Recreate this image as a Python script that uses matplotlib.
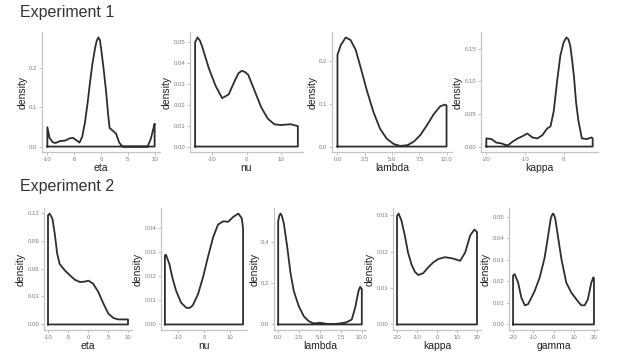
import numpy as np
import matplotlib.pyplot as plt

plt.rcParams['font.family'] = ['Liberation Sans', 'DejaVu Sans']

# ---- Experiment 1 ----
eta1_x = [-10, -9.6, -9.0, -8.5, -7.6, -6.7, -5.8, -5.2, -4.6, -4.0, -3.5, -3.0, -2.5, -2.1, -1.6, -1.1, -0.8, -0.5, -0.2, 0.1, 0.5, 1.0, 1.3, 1.6, 2.2, 2.8, 3.4, 4.0, 8.7, 9.3, 9.7, 10]
eta1_y = [0.049, 0.022, 0.011, 0.009, 0.014, 0.015, 0.021, 0.022, 0.016, 0.010, 0.025, 0.060, 0.110, 0.157, 0.210, 0.250, 0.268, 0.2765, 0.270, 0.240, 0.195, 0.133, 0.085, 0.047, 0.040, 0.033, 0.010, 0.0, 0.0, 0.02, 0.042, 0.058]

nu1_x = [-15, -14.3, -13.6, -12.9, -11, -9, -7.1, -5.2, -3.3, -2.3, -1.4, -0.5, 0.5, 2.4, 4.3, 6.2, 8.1, 10, 12.9, 15]
nu1_y = [0.050, 0.0523, 0.0508, 0.0477, 0.0375, 0.029, 0.0232, 0.025, 0.032, 0.0352, 0.0363, 0.0358, 0.0344, 0.0266, 0.0188, 0.0134, 0.0107, 0.0103, 0.0107, 0.0098]

lambda1_x = [0.0, 0.3, 0.76, 1.2, 1.67, 2.1, 2.7, 3.3, 3.9, 4.5, 5.15, 5.75, 6.4, 7.0, 7.6, 8.2, 8.8, 9.4, 9.85, 10.0]
lambda1_y = [0.215, 0.238, 0.256, 0.250, 0.227, 0.188, 0.131, 0.081, 0.042, 0.019, 0.006, 0.0015, 0.003, 0.0115, 0.027, 0.050, 0.075, 0.094, 0.0985, 0.096]

kappa1_x = [-20, -18.7, -17.4, -16.2, -14.5, -13.2, -11.9, -10.6, -9.4, -8.1, -6.8, -5.5, -4.3, -3.4, -2.55, -1.7, -0.85, 0.0, 0.7, 1.2, 1.7, 2.2, 2.7, 3.2, 3.8, 4.7, 6.0, 7.2, 7.5]
kappa1_y = [0.0125, 0.0115, 0.006, 0.005, 0.0015, 0.0075, 0.0125, 0.016, 0.020, 0.014, 0.0125, 0.0175, 0.0275, 0.031, 0.055, 0.100, 0.140, 0.160, 0.1675, 0.165, 0.155, 0.132, 0.105, 0.068, 0.040, 0.0125, 0.0115, 0.014, 0.0125]

# ---- Experiment 2 ----
eta2_x = [-10, -9.6, -8.9, -8.3, -7.7, -7.1, -5.8, -4.5, -3.3, -2.0, -0.76, 0.1, 1.3, 2.6, 3.9, 5.1, 6.4, 7.6, 8.9, 10]
eta2_y = [0.117, 0.119, 0.1135, 0.097, 0.076, 0.065, 0.058, 0.0527, 0.048, 0.0455, 0.046, 0.047, 0.0437, 0.0347, 0.022, 0.0115, 0.0068, 0.0054, 0.0054, 0.0054]

nu2_x = [-15, -14.6, -13.3, -12, -10.7, -8.8, -6.8, -5.5, -4.3, -2.3, -0.4, 1.5, 3.5, 5.4, 7.4, 9.3, 11.2, 13.2, 14.5, 15]
nu2_y = [0.0285, 0.0288, 0.025, 0.01875, 0.0139, 0.009, 0.0069, 0.0068, 0.0079, 0.0125, 0.0194, 0.0278, 0.036, 0.0413, 0.0426, 0.0424, 0.0444, 0.0458, 0.0438, 0.0396]

lambda2_x = [0.0, 0.15, 0.28, 0.45, 0.67, 1.07, 1.47, 1.87, 2.46, 3.06, 3.65, 4.25, 5.0, 5.8, 6.6, 7.4, 8.2, 8.8, 9.2, 9.6, 9.8, 10.0]
lambda2_y = [0.50, 0.528, 0.537, 0.525, 0.49, 0.379, 0.25, 0.161, 0.089, 0.040, 0.016, 0.005, 0.008, 0.003, 0.0016, 0.005, 0.011, 0.024, 0.080, 0.161, 0.182, 0.170]

kappa2_x = [-20, -19.2, -17.8, -16.1, -14.5, -12.8, -11.1, -9.4, -6.9, -4.4, -1.8, 0.7, 4.0, 7.4, 9.9, 11.6, 14.1, 16.6, 18.7, 20]
kappa2_y = [0.0298, 0.0305, 0.0286, 0.0245, 0.0198, 0.0166, 0.0145, 0.0136, 0.0141, 0.0157, 0.0171, 0.018, 0.0185, 0.0182, 0.0178, 0.0175, 0.0198, 0.0245, 0.0261, 0.0254]

gamma_x = [-20, -19.2, -17.5, -15.9, -14.2, -12.6, -10.9, -9.3, -6.8, -4.4, -2.7, -1.4, -0.8, -0.25, 0.35, 0.9, 2.2, 3.9, 6.3, 8.8, 11.3, 13.7, 15.4, 17.0, 18.7, 19.7, 20]
gamma_y = [0.0227, 0.0234, 0.0195, 0.0125, 0.0089, 0.0094, 0.0125, 0.0156, 0.0219, 0.031, 0.041, 0.049, 0.0508, 0.0516, 0.0508, 0.049, 0.041, 0.0305, 0.0195, 0.0148, 0.0117, 0.0089, 0.0089, 0.0117, 0.0195, 0.0219, 0.0215]

# tick values / labels
eta_ticks = [-10, -5, 0, 5, 10]
nu_ticks = [-10, 0, 10]
lambda_ticks = [0.0, 2.5, 5.0, 7.5, 10.0]
kappa1_ticks = [-20, -10, 0]
wide_ticks = [-20, -10, 0, 10, 20]

W, H = 617, 354
fig = plt.figure(figsize=(W / 100, H / 100), dpi=100)
fig.patch.set_facecolor('white')


def panel(box, xs, ys, xlabel, xticks, xfmt, yticks, yfmt):
    l, t, r, b = box
    ax = fig.add_axes([l / W, 1 - b / H, (r - l) / W, (b - t) / H])
    px = [xs[0]] + list(xs) + [xs[-1], xs[0]]
    py = [0] + list(ys) + [0, 0]
    ax.plot(px, py, color='#2e2e2e', lw=1.3, solid_joinstyle='round')
    span = xs[-1] - xs[0]
    ymax = max(ys)
    ax.set_xlim(xs[0] - 0.05 * span, xs[-1] + 0.05 * span)
    ax.set_ylim(-0.05 * ymax, 1.05 * ymax)
    ax.set_xticks(xticks)
    ax.set_xticklabels([xfmt.format(v) for v in xticks])
    ax.set_yticks(yticks)
    ax.set_yticklabels([yfmt.format(v) for v in yticks])
    for s in ['top', 'right']:
        ax.spines[s].set_visible(False)
    for s in ['left', 'bottom']:
        ax.spines[s].set_color('#c4c4c4')
        ax.spines[s].set_linewidth(0.9)
    ax.tick_params(length=2, width=0.6, color='#b8b8b8', labelsize=4.3,
                   labelcolor='#7a7a7a', pad=1.5)
    ax.set_xlabel(xlabel, fontsize=7.5, color='#222222', labelpad=1)
    ax.set_ylabel('density', fontsize=7.5, color='#222222', labelpad=1)
    ax.patch.set_alpha(0)
    return ax


r1 = (32, 152)
panel((42, r1[0], 160, r1[1]), eta1_x, eta1_y, 'eta', eta_ticks, '{:g}', [0.0, 0.1, 0.2], '{:.1f}')
panel((190, r1[0], 303, r1[1]), nu1_x, nu1_y, 'nu', nu_ticks, '{:g}', [0.0, 0.01, 0.02, 0.03, 0.04, 0.05], '{:.2f}')
panel((332, r1[0], 452, r1[1]), lambda1_x, lambda1_y, 'lambda', lambda_ticks, '{:.1f}', [0.0, 0.1, 0.2], '{:.1f}')
panel((481, r1[0], 598, r1[1]), kappa1_x, kappa1_y, 'kappa', kappa1_ticks, '{:g}', [0.0, 0.05, 0.10, 0.15], '{:.2f}')

r2 = (208, 330)
panel((44, r2[0], 132, r2[1]), eta2_x, eta2_y, 'eta', eta_ticks, '{:g}', [0.0, 0.03, 0.06, 0.09, 0.12], '{:.2f}')
panel((161, r2[0], 247, r2[1]), nu2_x, nu2_y, 'nu', nu_ticks, '{:g}', [0.0, 0.01, 0.02, 0.03, 0.04], '{:.2f}')
panel((274, r2[0], 366, r2[1]), lambda2_x, lambda2_y, 'lambda', lambda_ticks, '{:.1f}', [0.0, 0.2, 0.4], '{:.1f}')
panel((393, r2[0], 481, r2[1]), kappa2_x, kappa2_y, 'kappa', wide_ticks, '{:g}', [0.0, 0.01, 0.02, 0.03], '{:.2f}')
panel((509, r2[0], 598, r2[1]), gamma_x, gamma_y, 'gamma', wide_ticks, '{:g}', [0.0, 0.01, 0.02, 0.03, 0.04, 0.05], '{:.2f}')

fig.text(20 / W, 1 - 12 / H, 'Experiment 1', fontsize=11.5, color='#333333', va='center', ha='left')
fig.text(20 / W, 1 - 187 / H, 'Experiment 2', fontsize=11.5, color='#333333', va='center', ha='left')

fig.savefig('out.png', dpi=100)
